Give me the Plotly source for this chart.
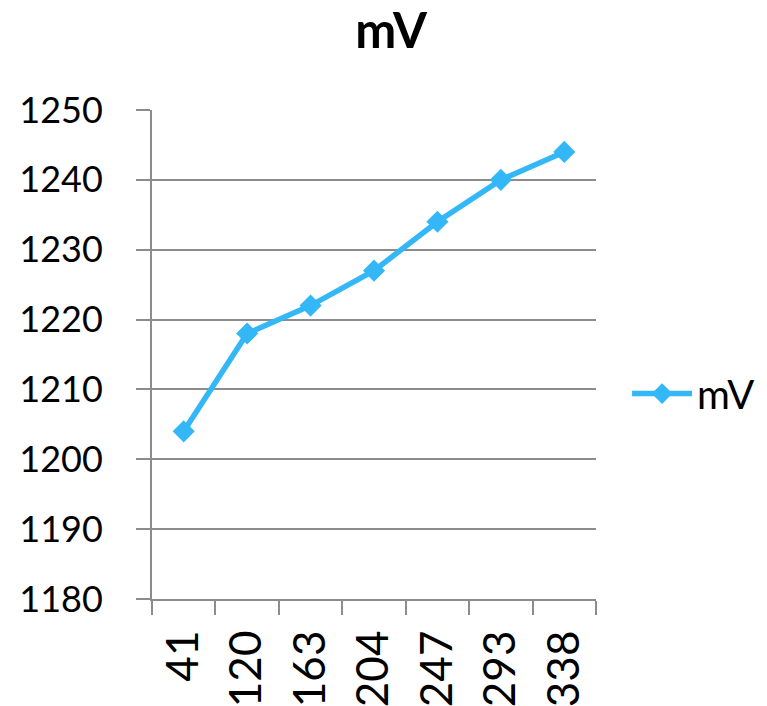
import plotly.graph_objects as go

categories = ["41", "120", "163", "204", "247", "293", "338"]
values = [1204, 1218, 1222, 1227, 1234, 1240, 1244]
series_name = "mV"
y_ticks = [1180, 1190, 1200, 1210, 1220, 1230, 1240, 1250]

FONT = "Lato"
GRID = "#8c8c8c"
BLUE = "#33b7f7"

fig = go.Figure()
fig.add_trace(go.Scatter(
    x=categories, y=values, name=series_name, mode="lines+markers",
    line=dict(color=BLUE, width=5.5),
    marker=dict(symbol="diamond", size=17, color=BLUE),
))

fig.update_layout(
    width=767, height=706, autosize=False,
    margin=dict(l=152, r=171, t=110, b=107, autoexpand=False),
    paper_bgcolor="white", plot_bgcolor="white",
    font=dict(family=FONT, color="black", size=34),
    title=dict(text="<b>mV</b>", x=0.51, xanchor="center", y=0.957, yanchor="middle",
               font=dict(family=FONT, size=49, color="black"), automargin=False),
    showlegend=True,
    legend=dict(x=1.07, y=0.42, xanchor="left", yanchor="middle",
                font=dict(family=FONT, size=40), itemwidth=60,
                bgcolor="rgba(0,0,0,0)"),
)

fig.update_xaxes(
    type="category", range=[-0.5, 6.5], showgrid=False, automargin=False,
    showline=True, linecolor=GRID, linewidth=2,
    ticks="outside", ticklen=14, tickwidth=2, tickcolor=GRID,
    tickson="boundaries", tickangle=-90, ticklabelstandoff=12,
    tickfont=dict(family=FONT, size=44),
)
fig.update_yaxes(
    range=[1180, 1250], tickvals=y_ticks, showgrid=True, automargin=False,
    gridcolor=GRID, gridwidth=2, zeroline=False,
    showline=True, linecolor=GRID, linewidth=2,
    ticks="outside", ticklen=14, tickwidth=2, tickcolor=GRID,
    ticklabelstandoff=26,
    tickfont=dict(family=FONT, size=36),
)

fig.write_html("out.html")
